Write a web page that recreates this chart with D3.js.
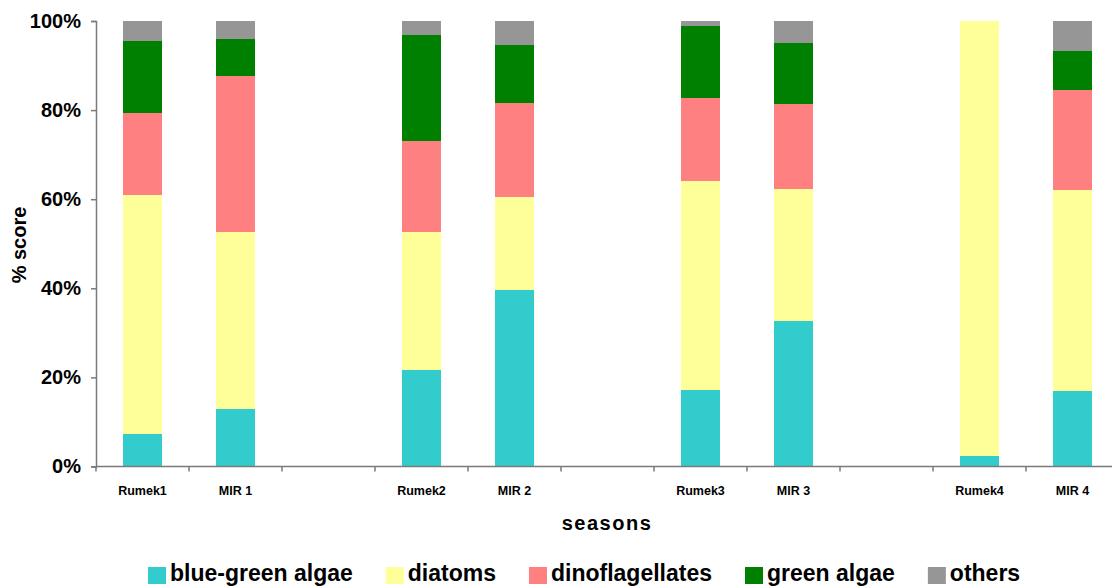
<!DOCTYPE html>
<html>
<head>
<meta charset="utf-8">
<script src="https://cdn.jsdelivr.net/npm/d3@7"></script>
<style>
  html, body { margin: 0; padding: 0; background: #fff; }
  svg { display: block; font-family: "Liberation Sans", Arial, sans-serif; }
</style>
</head>
<body>
<svg id="chart" width="1112" height="586"></svg>
<script>
// ---- data ----
const categories = ["Rumek1", "MIR 1", "", "Rumek2", "MIR 2", "", "Rumek3", "MIR 3", "", "Rumek4", "MIR 4"];
const seriesNames = ["blue-green algae", "diatoms", "dinoflagellates", "green algae", "others"];
const blueGreen      = [7.3, 12.9, null, 21.7, 39.6, null, 17.2, 32.7, null, 2.4, 17.0];
const diatoms        = [53.6, 39.7, null, 30.9, 20.9, null, 46.9, 29.6, null, 97.6, 45.0];
const dinoflagellates= [18.4, 35.1, null, 20.5, 21.1, null, 18.6, 19.1, null, 0, 22.5];
const greenAlgae     = [16.2, 8.3, null, 23.8, 13.0, null, 16.2, 13.7, null, 0, 8.8];
const others         = [4.5, 4.0, null, 3.1, 5.4, null, 1.1, 4.9, null, 0, 6.7];
const yTicks = [0, 20, 40, 60, 80, 100];
const colors = ["#33CCCC", "#FFFF99", "#FF8080", "#008000", "#969696"];

const seriesValues = [blueGreen, diatoms, dinoflagellates, greenAlgae, others];

(function () {
// ---- layout ----
const svg = d3.select("#chart");
const mLeft = 96, mTop = 21, mBottom = 466.5, slot = 93;
const mRight = mLeft + slot * categories.length;

const rows = categories.map((c, i) => {
  const r = { id: i, label: c };
  seriesNames.forEach((s, k) => r[s] = seriesValues[k][i]);
  return r;
});

const x = d3.scaleBand()
  .domain(rows.map(d => d.id))
  .range([mLeft, mRight])
  .paddingInner(0.58)
  .paddingOuter(0.29);

const y = d3.scaleLinear().domain([0, 100]).range([mBottom, mTop]);

const stack = d3.stack().keys(seriesNames).value((d, k) => d[k] == null ? 0 : d[k]);
const stacked = stack(rows.filter(d => d.label !== ""));

// bars
svg.append("g").selectAll("g")
  .data(stacked)
  .join("g")
  .attr("fill", (d, i) => colors[i])
  .selectAll("rect")
  .data(d => d)
  .join("rect")
  .attr("x", d => x(d.data.id))
  .attr("width", x.bandwidth())
  .attr("y", d => y(d[1]))
  .attr("height", d => Math.max(0, y(d[0]) - y(d[1])))
  .attr("shape-rendering", "crispEdges");

// y axis
const yAxis = d3.axisLeft(y).tickValues(yTicks).tickFormat(d => d + "%").tickSize(5).tickPadding(10);
const gy = svg.append("g").attr("transform", `translate(${mLeft},0)`).call(yAxis);
gy.select(".domain").attr("stroke", "#7a7a7a").attr("stroke-width", 1.5);
gy.selectAll(".tick line").attr("stroke", "#7a7a7a").attr("stroke-width", 1.5);
gy.selectAll(".tick text")
  .attr("font-size", 20).attr("font-weight", "bold").attr("fill", "#000")
  .attr("font-family", "Liberation Sans, Arial, sans-serif");

// x axis: line, boundary ticks, labels
const gx = svg.append("g");
gx.append("line")
  .attr("x1", mLeft).attr("x2", mRight)
  .attr("y1", mBottom).attr("y2", mBottom)
  .attr("stroke", "#7a7a7a").attr("stroke-width", 1.5);
const half = (x.step() - x.bandwidth()) / 2;
const bounds = rows.map(d => x(d.id) - half).concat([x(rows[rows.length - 1].id) + x.bandwidth() + half]);
gx.selectAll("line.tk").data(bounds).join("line")
  .attr("class", "tk")
  .attr("x1", d => d).attr("x2", d => d)
  .attr("y1", mBottom).attr("y2", mBottom + 5)
  .attr("stroke", "#7a7a7a").attr("stroke-width", 1.5);
gx.selectAll("text").data(rows.filter(d => d.label !== "")).join("text")
  .attr("x", d => x(d.id) + x.bandwidth() / 2)
  .attr("y", 495)
  .attr("text-anchor", "middle")
  .attr("font-size", 12.5).attr("font-weight", "bold").attr("fill", "#000")
  .text(d => d.label);

// axis titles
svg.append("text")
  .attr("x", 607).attr("y", 530)
  .attr("text-anchor", "middle")
  .attr("font-size", 20).attr("font-weight", "bold")
  .attr("letter-spacing", 1.5)
  .text("seasons");

svg.append("text")
  .attr("transform", "translate(26,245) rotate(-90)")
  .attr("text-anchor", "middle")
  .attr("font-size", 20).attr("font-weight", "bold")
  .text("% score");

// legend
const lg = svg.append("g");
let lx = 148;
seriesNames.forEach((name, i) => {
  lg.append("rect")
    .attr("x", lx).attr("y", 567).attr("width", 18).attr("height", 17)
    .attr("fill", colors[i]);
  const t = lg.append("text")
    .attr("x", lx + 22).attr("y", 581)
    .attr("font-size", 23).attr("font-weight", "bold")
    .text(name);
  lx += 22 + t.node().getComputedTextLength() + 33;
});
})();
</script>
</body>
</html>
